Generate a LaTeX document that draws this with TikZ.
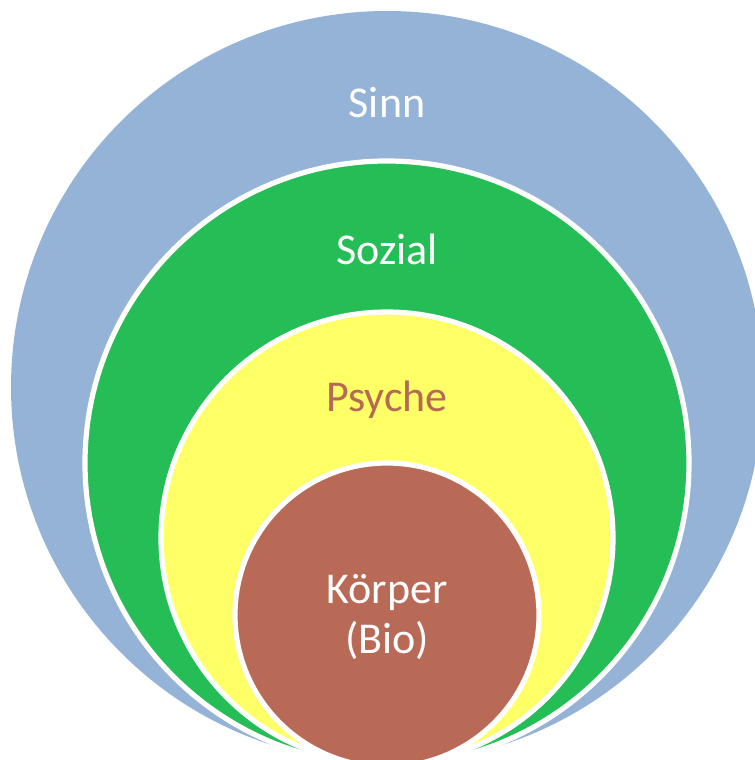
\documentclass[tikz,border=0pt]{standalone}
\usepackage{fontspec}
\setmainfont{Carlito}
\definecolor{sinnblue}{HTML}{95B3D7}
\definecolor{sozgreen}{HTML}{25BD55}
\definecolor{psyyellow}{HTML}{FFFF66}
\definecolor{bodybrown}{HTML}{B86A57}
\definecolor{psytext}{HTML}{B46A55}
\tikzset{
  ring/.style={circle, inner sep=0pt, draw=white, line width=3.9pt},
  label/.style={anchor=base, font=\fontsize{33}{37.5}\selectfont, text=white, align=center}
}
\begin{document}
\begin{tikzpicture}[x=0.75pt, y=-0.75pt]
  \useasboundingbox (0,0) rectangle (755,760);
  \clip (0,0) rectangle (755,760);
  % nested layers, all touching near the bottom
  \node[ring, draw=none, fill=sinnblue, minimum size=564pt] (sinn) at (387,387) {};
  \node[ring, fill=sozgreen, minimum size=453pt] (sozial) at (387,463) {};
  \node[ring, fill=psyyellow, minimum size=339pt] (psyche) at (387,538) {};
  \node[ring, fill=bodybrown, minimum size=228pt] (koerper) at (387,615) {};
  % layer titles
  \node[label] (tsinn) at (387,117) {Sinn};
  \node[label] (tsozial) at (387,264) {Sozial};
  \node[label, text=psytext] (tpsyche) at (387,411) {Psyche};
  \node[label] (tkoerper) at (387,603) {Körper};
  \node[label] (tbio) at (387,653) {(Bio)};
\end{tikzpicture}
\end{document}
